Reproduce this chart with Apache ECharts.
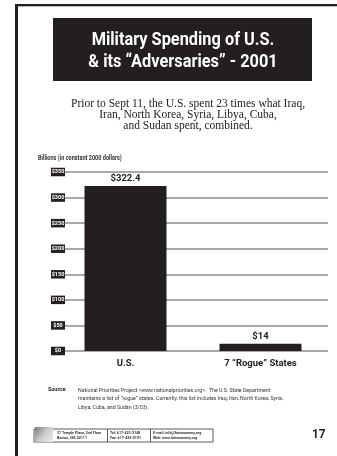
<!DOCTYPE html>
<html><head><meta charset="utf-8">
<script src="https://cdn.jsdelivr.net/npm/echarts@6/dist/echarts.min.js"></script>
<style>html,body{margin:0;padding:0;background:#fff}#c{width:337px;height:456px}</style>
</head><body><div id="c"></div>
<script>
var categories = ['U.S.', '7 \u201CRogue\u201D States'];
var spending = [322.4, 14];
var valueLabels = ['$322.4', '$14'];
var yMin = 0, yMax = 350, yStep = 50;

var SANS = 'Roboto,"Liberation Sans",sans-serif';
var DARK = '#231f20';

var chart = echarts.init(document.getElementById('c'), null, {renderer: 'canvas'});
chart.setOption({
  animation: false,
  backgroundColor: '#fff',
  title: [
    {text: 'Prior to Sept 11, the U.S. spent 23 times what Iraq,\nIran, North Korea, Syria, Libya, Cuba,\nand Sudan spent, combined.',
     left: 183, top: 94, textAlign: 'center',
     textStyle: {color: '#222', fontFamily: '"Liberation Serif","DejaVu Serif",serif', fontWeight: 'normal', fontSize: 11.5, lineHeight: 10.8}}
  ],
  grid: {left: 58, right: 9, top: 172, bottom: 105, containLabel: false},
  xAxis: {
    type: 'category', data: categories,
    axisLine: {show: false}, axisTick: {show: false},
    axisLabel: {color: '#222', fontFamily: SANS, fontWeight: 'bold', fontSize: 9.5, margin: 8}
  },
  yAxis: {
    type: 'value', min: yMin, max: yMax, interval: yStep,
    axisLine: {show: false}, axisTick: {show: false},
    splitLine: {lineStyle: {color: '#a9a9a9', width: 2}},
    axisLabel: {
      formatter: function (v) { return '$' + v; },
      color: '#fff', fontFamily: SANS, fontWeight: 'bold', fontSize: 5.5,
      backgroundColor: DARK, padding: [1.5, 1, 1, 1], width: 12, align: 'center', margin: 0
    }
  },
  series: [{
    type: 'bar', data: spending, barWidth: 82,
    itemStyle: {color: DARK},
    label: {show: true, position: 'top', distance: 2,
      formatter: function (p) { return valueLabels[p.dataIndex]; },
      color: '#222', fontFamily: SANS, fontWeight: 'bold', fontSize: 9.5}
  }],
  graphic: [
    {type: 'rect', shape: {x: 15, y: 4, width: 330, height: 2}, style: {fill: DARK}},
    {type: 'rect', shape: {x: 15, y: 6, width: 330, height: 1}, style: {fill: '#bbb'}},
    {type: 'rect', shape: {x: 15, y: 4, width: 3, height: 460}, style: {fill: DARK}},
    {type: 'rect', z: -1, shape: {x: 53, y: 18, width: 259, height: 63}, style: {fill: DARK}},
    {type: 'text', x: 183, y: 31, scaleX: 0.86, style: {text: 'Military Spending of U.S.', fill: '#fff', font: 'bold 19px ' + SANS, textAlign: 'center'}},
    {type: 'text', x: 183, y: 53, scaleX: 0.86, style: {text: '& its \u201CAdversaries\u201D - 2001', fill: '#fff', font: 'bold 19px ' + SANS, textAlign: 'center'}},
    {type: 'text', x: 38, y: 155, scaleX: 0.85, style: {text: 'Billions (in constant 2000 dollars)', fill: '#333', font: 'bold 6.5px ' + SANS}},
    {type: 'text', x: 48, y: 386, scaleX: 0.9, style: {text: 'Source:', fill: '#222', font: 'bold 6px ' + SANS}},
    {type: 'text', x: 78, y: 386, scaleX: 0.87, style: {
      text: 'National Priorities Project <www.nationalpriorities.org>.  The U.S. State Department\nmaintains a list of \u201Crogue\u201D states. Currently, this list includes Iraq, Iran, North Korea, Syria,\nLibya, Cuba, and Sudan (3/03).',
      fill: '#333', font: '6px ' + SANS, lineHeight: 8.5}},
    {type: 'rect', shape: {x: 34, y: 429, width: 179, height: 13}, style: {fill: '#fff', stroke: '#333', lineWidth: 0.8}},
    {type: 'rect', shape: {x: 35, y: 427, width: 18, height: 15},
     style: {fill: new echarts.graphic.LinearGradient(0, 0, 1, 1, [{offset: 0, color: '#777'}, {offset: 0.5, color: '#ccc'}, {offset: 1, color: '#eee'}])}},
    {type: 'rect', shape: {x: 107, y: 429, width: 0.8, height: 13}, style: {fill: '#333'}},
    {type: 'rect', shape: {x: 150, y: 429, width: 0.8, height: 13}, style: {fill: '#333'}},
    {type: 'text', x: 57, y: 431, style: {text: '37 Temple Place, 2nd Floor\nBoston, MA 02111', fill: '#333', font: 'bold 3.6px ' + SANS, lineHeight: 4.5}},
    {type: 'text', x: 110, y: 431, style: {text: 'Tel: 617-423-2148\nFax: 617-423-0191', fill: '#333', font: 'bold 3.6px ' + SANS, lineHeight: 4.5}},
    {type: 'text', x: 153, y: 431, style: {text: 'E-mail: info@faireconomy.org\nWeb: www.faireconomy.org', fill: '#333', font: 'bold 3.6px ' + SANS, lineHeight: 4.5}},
    {type: 'text', x: 312, y: 428, scaleX: 0.9, style: {text: '17', fill: '#222', font: 'bold 13px ' + SANS}}
  ]
});
</script></body></html>
